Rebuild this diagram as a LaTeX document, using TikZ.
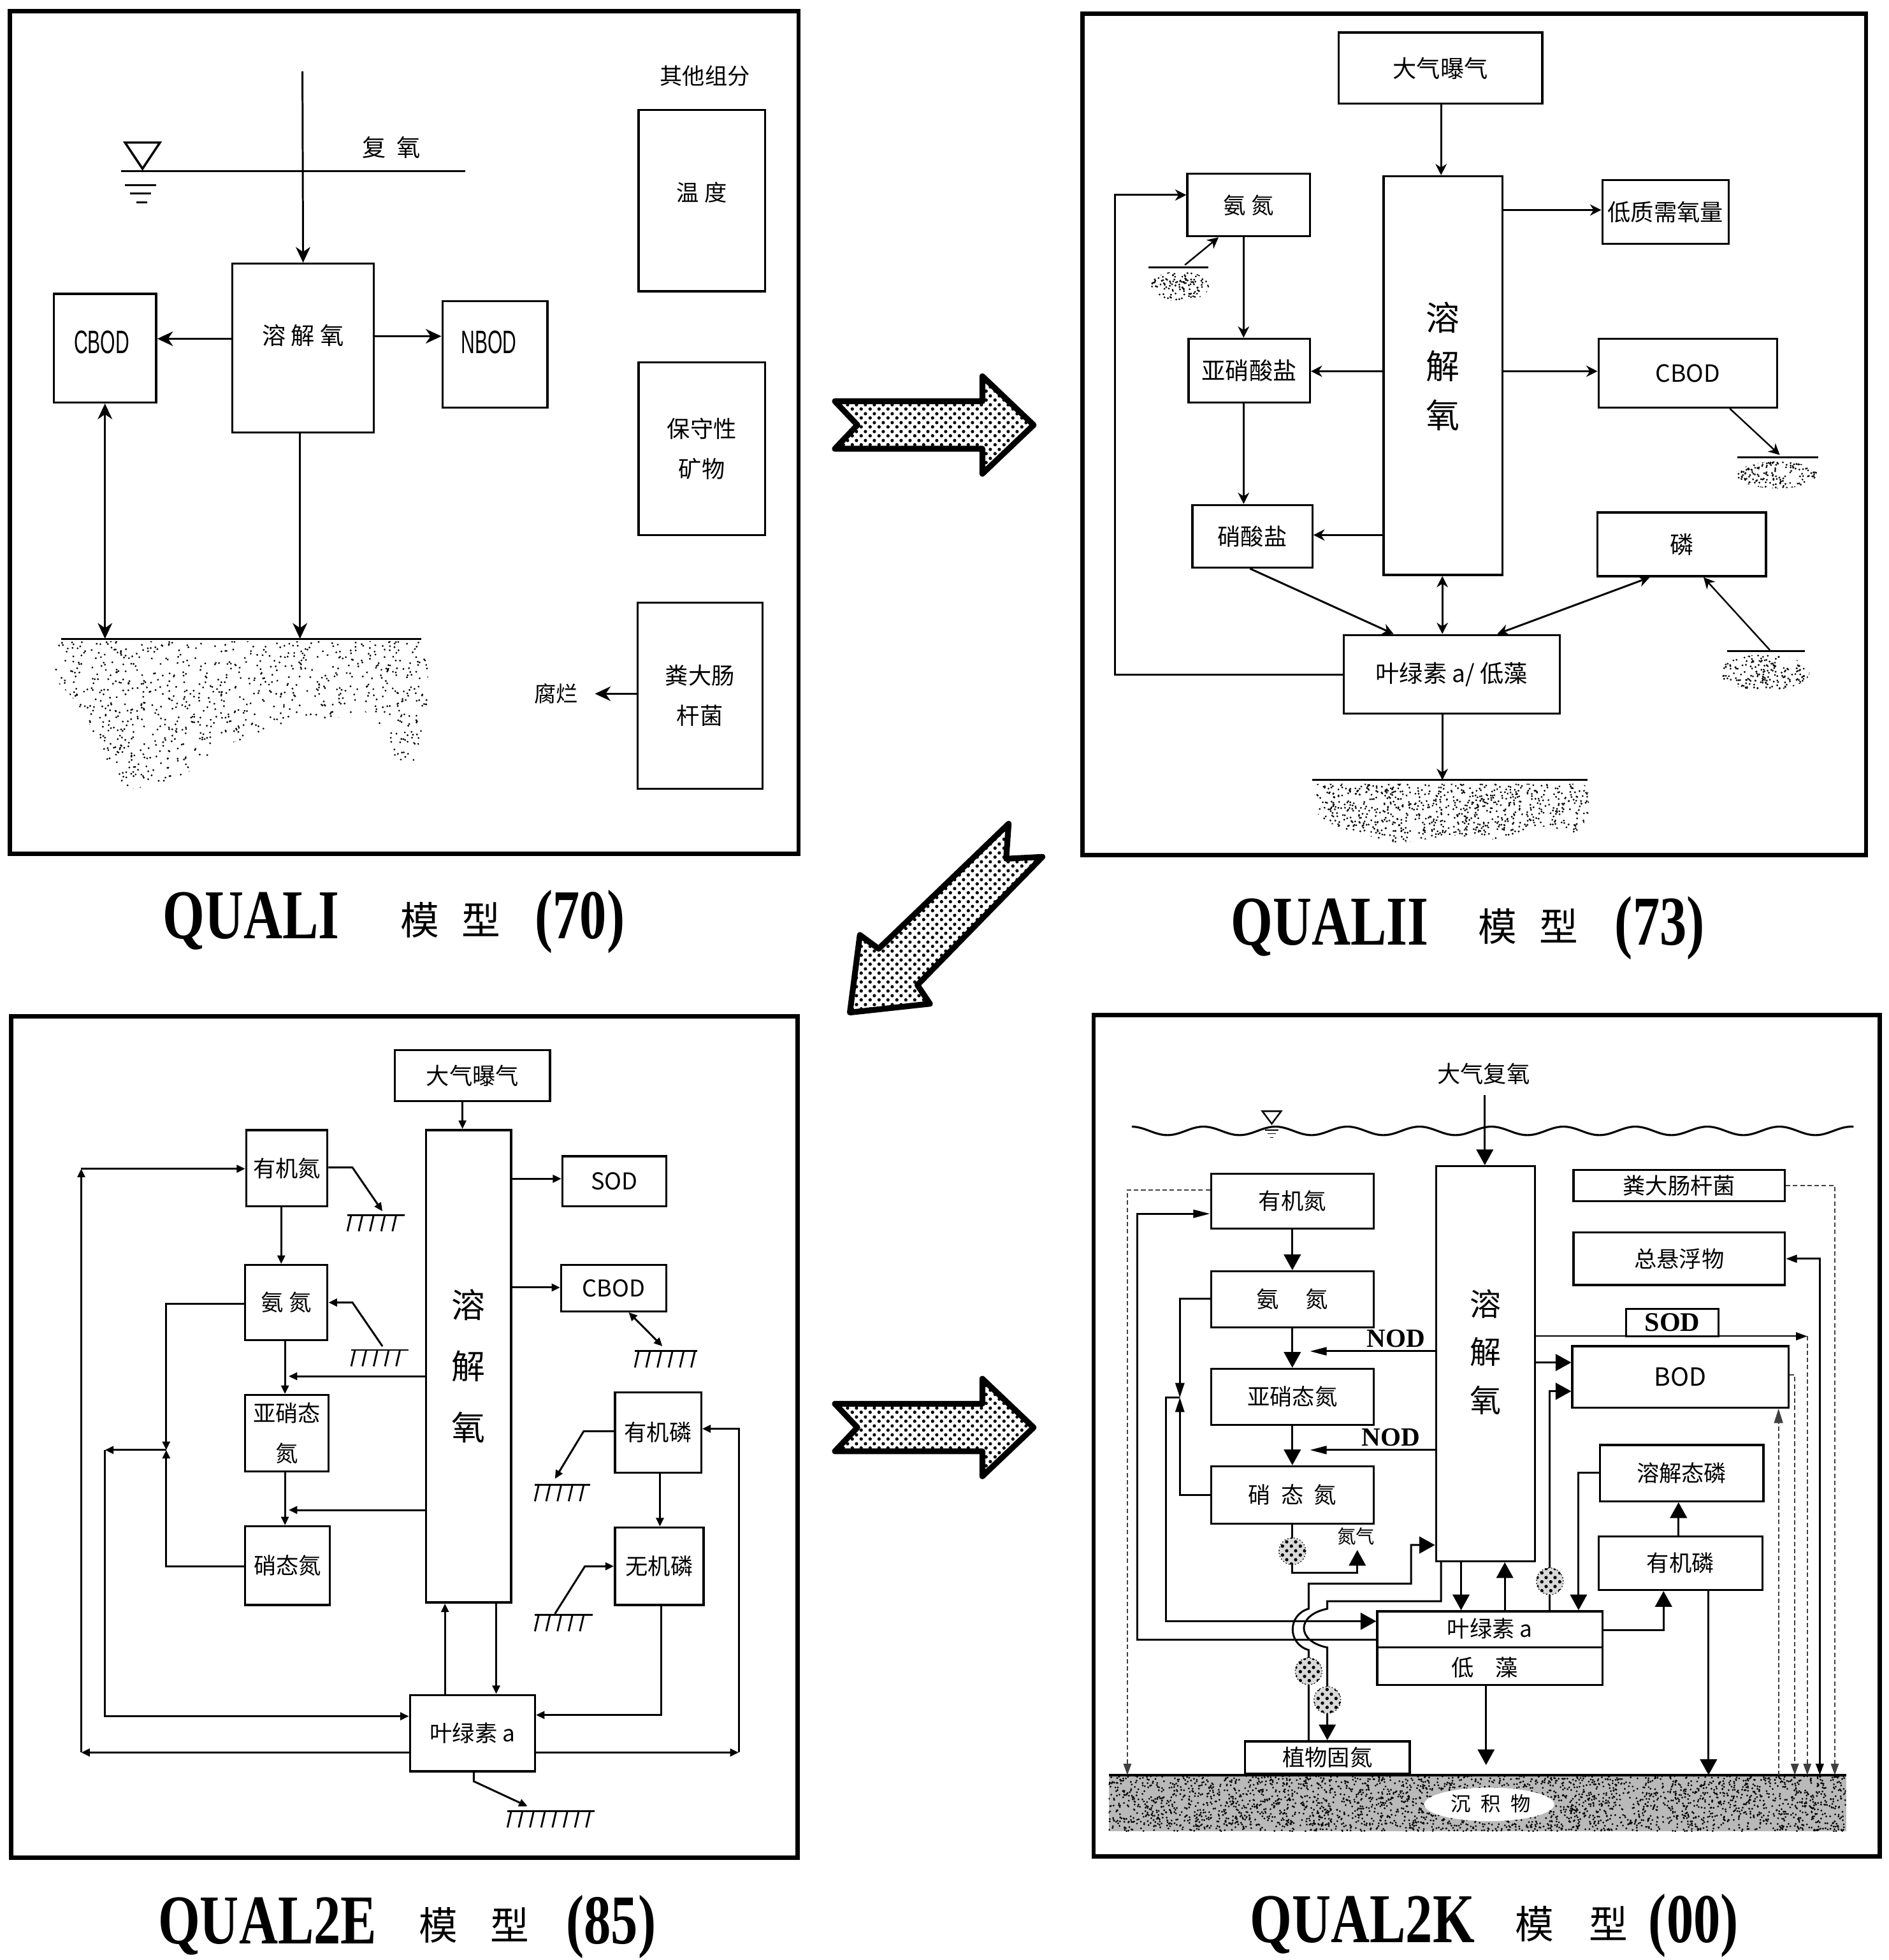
\documentclass[tikz,border=0pt]{standalone}
\usepackage{fontspec}
\setmainfont{Liberation Serif}
\newfontfamily\cjk{Noto Sans CJK SC}
\newfontfamily\sansf{Liberation Sans}
\usetikzlibrary{arrows.meta,patterns,patterns.meta,fit,calc}
\newcommand\F[1]{\fontsize{\fpeval{#1*0.5582}pt}{\fpeval{#1*0.67}pt}\selectfont}
\newcommand\Fb[2]{\fontsize{\fpeval{#1*0.5582}pt}{\fpeval{#2*0.5582}pt}\selectfont}
\tikzdeclarepattern{
  name=mydots,
  type=uncolored,
  bounding box={(0pt,0pt) and (4pt,4pt)},
  tile size={(4pt,4pt)},
  code={
    \pgfpathcircle{\pgfqpoint{1pt}{1pt}}{0.8pt}
    \pgfpathcircle{\pgfqpoint{3pt}{3pt}}{0.8pt}
    \pgfusepath{fill}
  }
}
% box: [label options]{name}{x1}{y1}{x2}{y2}{text}
\newcommand\bx[7][]{\node[bx,fit={(#3,#4) (#5,#6)},label={[lab,#1]center:#7}] (#2) {};}
\newcommand\speck[5]{\foreach \k in {1,...,#5}{\pgfmathsetmacro\spx{#1+#3*rnd}\pgfmathsetmacro\spy{#2+#4*rnd}\fill (\spx,\spy) circle[radius=0.45pt];}}
\newcommand\grnd[4]{\draw[line width=0.85pt] (#1,#3) -- (#2,#3);
  \foreach \g in {0,...,#4}{\draw[line width=0.8pt] (#1+3+9*\g,#3) -- ++(-3,13);}}
\newcommand\bub[2]{\fill[gray!30] (#1,#2) circle[radius=6pt];\fill[pattern=mydots] (#1,#2) circle[radius=6pt];\draw[line width=0.4pt,densely dotted] (#1,#2) circle[radius=6pt];}

\begin{document}
\begin{tikzpicture}[x=0.01962cm,y=-0.01962cm,
  frame/.style={draw,line width=1.9pt},
  bx/.style={draw,line width=0.95pt,inner sep=0pt},
  lab/.style={font=\cjk\F{18},align=center,inner sep=0pt},
  ln/.style={line width=0.85pt},
  a1/.style={-{Stealth[length=7pt,width=6.5pt,inset=2.2pt]}},
  a1d/.style={{Stealth[length=7pt,width=6.5pt,inset=2.2pt]}-{Stealth[length=7pt,width=6.5pt,inset=2.2pt]}},
  a2/.style={-{Stealth[length=5pt,width=5pt,inset=1.6pt]}},
  a2d/.style={{Stealth[length=5pt,width=5pt,inset=1.6pt]}-{Stealth[length=5pt,width=5pt,inset=1.6pt]}},
  a3/.style={-{Triangle[length=3.8pt,width=3.4pt]}},
  a3d/.style={{Triangle[length=3.8pt,width=3.4pt]}-{Triangle[length=3.8pt,width=3.4pt]}},
  a4/.style={-{Triangle[length=7pt,width=7.5pt]}},
  a4n/.style={-{Triangle[length=7.5pt,width=3.6pt]}},
  a4m/.style={-{Triangle[length=6.5pt,width=4pt]}},
  a4s/.style={-{Triangle[length=5pt,width=3.5pt]}},
  a4sd/.style={{Triangle[length=5pt,width=3.5pt]}-{Triangle[length=5pt,width=3.5pt]}},
  dl/.style={line width=0.5pt,dash pattern=on 2pt off 1.2pt,black!75},
  ttl/.style={font=\bfseries\F{56},anchor=base,inner sep=0pt},
  ttc/.style={font=\cjk\F{31},anchor=base,inner sep=0pt},
  bigarr/.style={line width=2.6pt,line join=round,pattern=mydots}
]
\useasboundingbox (0,0) rectangle (1511,1568);
\pgfmathsetseed{4242}

%================ Panel 1 : QUALI =================
\draw[frame] (8,9) rectangle (639,683);
\coordinate (fy1) at (242,57);
\draw[ln] (97,137) -- (372,137);
\draw[line width=1pt] (100,114) -- (128,114) -- (114,135) -- cycle;
\draw[ln] (100,148)--(125,148) (104,155)--(121,155) (109,162)--(118,162);
\node[font=\cjk\F{19}] at (313,118) {复\hspace{0.45em}氧};
\bx[font=\cjk\F{19},yshift=5.6pt]{dox1}{186}{211}{299}{346}{溶 解 氧}
\bx[font=\sansf\F{26},xshift=-1.5pt,yshift=2.5pt]{cb1}{43}{235}{125}{322}{\scalebox{0.59}[1]{CBOD}}
\bx[font=\sansf\F{26},xshift=-2.8pt,yshift=5.3pt]{nb1}{354}{241}{438}{326}{\scalebox{0.59}[1]{NBOD}}
\draw[ln,a1] (fy1) -- (dox1.north);
\draw[ln,a1] (dox1.west |- 0,271) -- (cb1.east |- 0,271);
\draw[ln,a1] (dox1.east |- 0,269) -- (nb1.west |- 0,269);
\coordinate (sl1a) at (49,511);
\coordinate (sl1b) at (337,511);
\draw[ln] (sl1a) -- (sl1b);
\draw[ln,a1d] (cb1.south) -- (cb1.south |- sl1a);
\draw[ln,a1] (dox1.south -| 240,0) -- (sl1a -| 240,0);
\begin{scope}
\clip[rounded corners=4pt] (44,513) -- (341,513) -- (343,553) -- (339,584) -- (329,615) -- (316,606) -- (291,566) -- (270,575) -- (241,575) -- (208,588) -- (175,597) -- (150,619) -- (125,628) -- (100,632) -- (90,619) -- (67,570) -- (54,553) -- (44,545) -- cycle;
\speck{44}{513}{300}{120}{1300}
\end{scope}
\node[font=\cjk\F{18}] at (564,61) {其他组分};
\bx[font=\cjk\F{18},yshift=3.6pt]{tmp1}{511}{88}{612}{233}{温 度}
\bx[font=\cjk\Fb{18.5}{32}]{cons1}{511}{290}{612}{428}{保守性\\矿物}
\bx[font=\cjk\Fb{18.5}{32}]{fc1}{510}{482}{610}{631}{粪大肠\\杆菌}
\coordinate (rot1) at (476,555);
\draw[ln,a1] (fc1.west |- rot1) -- (rot1);
\node[font=\cjk\F{17.5}] at (445,555) {腐烂};
\node[ttl] at (201,751) {\scalebox{0.77}[1]{QUALI}};
\node[ttc] at (336,748) {模};
\node[ttc] at (385,748) {型};
\node[ttl] at (464,751) {\scalebox{0.77}[1]{(70)}};

%================ Panel 2 : QUALII =================
\draw[frame] (866,11) rectangle (1493,684);
\bx[font=\cjk\F{19}]{aer2}{1071}{26}{1234}{83}{大气曝气}
\bx[font=\cjk\Fb{27}{39},yshift=4.2pt]{dox2}{1107}{141}{1202}{460}{溶\\解\\氧}
\bx[font=\cjk\F{18}]{nh2}{950}{139}{1048}{189}{氨 氮}
\bx[font=\cjk\F{19}]{no2}{951}{271}{1048}{322}{亚硝酸盐}
\bx[font=\cjk\F{18.5}]{no3}{954}{404}{1050}{454}{硝酸盐}
\bx[font=\cjk\F{18.5}]{sd2}{1282}{144}{1383}{195}{低质需氧量}
\bx[font=\cjk\F{19}]{cb2}{1279}{271}{1422}{326}{CBOD}
\bx[font=\cjk\F{19}]{p2}{1278}{410}{1413}{461}{磷}
\bx[font=\cjk\F{19}]{chl2}{1075}{508}{1248}{571}{叶绿素 a/ 低藻}
\draw[ln,a2] (aer2.south -| 1153,0) -- (dox2.north -| 1153,0);
\draw[ln,a2] (nh2.south -| 995,0) -- (no2.north -| 995,0);
\draw[ln,a2] (no2.south -| 995,0) -- (no3.north -| 995,0);
\draw[ln,a2] (dox2.west |- 0,297) -- (no2.east |- 0,297);
\draw[ln,a2] (dox2.west |- 0,428) -- (no3.east |- 0,428);
\draw[ln,a2] (dox2.east |- 0,168) -- (sd2.west |- 0,168);
\draw[ln,a2] (dox2.east |- 0,297) -- (cb2.west |- 0,297);
\draw[ln,a2] (no3.south -| 1000,0) -- (chl2.north -| 1115,0);
\draw[ln,a2d] (dox2.south -| 1154,0) -- (chl2.north -| 1154,0);
\draw[ln,a2d] (p2.south -| 1320,0) -- (chl2.north -| 1198,0);
\draw[ln,a2] (chl2.west) -| (892,156) -- (nh2.west |- 0,156);
\coordinate (c2sa) at (1050,624);
\coordinate (c2sb) at (1270,624);
\draw[ln] (c2sa) -- (c2sb);
\draw[ln,a2] (chl2.south -| 1154,0) -- (c2sa -| 1154,0);
\draw[ln] (919,214) -- (967,214);
\coordinate (g2a) at (948,212);
\draw[line width=0.7pt,a2] (g2a) -- (nh2.south -| 975,0);
\draw[ln] (1390,366) -- (1455,366);
\coordinate (g2b) at (1424,364);
\draw[line width=0.7pt,a2] (cb2.south -| 1384,0) -- (g2b);
\draw[ln] (1382,521) -- (1444,521);
\coordinate (g2c) at (1416,520);
\draw[line width=0.7pt,a2] (g2c) -- (p2.south -| 1363,0);
\begin{scope}\clip (944,229) ellipse[x radius=13pt,y radius=6.7pt];\speck{921}{217}{46}{24}{140}\end{scope}
\begin{scope}\clip (1422,380) ellipse[x radius=18pt,y radius=6pt];\speck{1390}{369}{65}{22}{180}\end{scope}
\begin{scope}\clip (1412,538) ellipse[x radius=20pt,y radius=8pt];\speck{1376}{524}{73}{28}{220}\end{scope}
\begin{scope}
\clip[rounded corners=3pt] (1050,627) -- (1270,627) -- (1272,650) -- (1262,668) -- (1230,660) -- (1200,672) -- (1160,668) -- (1120,675) -- (1080,665) -- (1055,655) -- cycle;
\speck{1050}{627}{222}{48}{950}
\end{scope}
\node[ttl] at (1064,756) {\scalebox{0.77}[1]{QUALII}};
\node[ttc] at (1198,753) {模};
\node[ttc] at (1247,753) {型};
\node[ttl] at (1328,756) {\scalebox{0.77}[1]{(73)}};

%================ big arrows =================
\draw[bigarr] (668,321) -- (786,321) -- (786,301) -- (827,340) -- (786,379) -- (786,359) -- (668,359) -- (686,340) -- cycle;
\draw[bigarr] (680,810) -- (688,748) -- (703,759) -- (807,659) -- (805,687) -- (834,685.5) -- (734,788) -- (744,803) -- cycle;
\draw[bigarr] (668,1123) -- (786,1123) -- (786,1103) -- (827,1142) -- (786,1181) -- (786,1161) -- (668,1161) -- (686,1142) -- cycle;

%================ Panel 3 : QUAL2E =================
\draw[frame] (9,813) rectangle (638,1486);
\bx[font=\cjk\F{18.5}]{aer3}{316}{840}{440}{881}{大气曝气}
\bx[font=\cjk\Fb{27}{49}]{dox3}{341}{904}{409}{1282}{溶\\解\\氧}
\bx[font=\cjk\F{18}]{on3}{197}{904}{262}{965}{有机氮}
\bx[font=\cjk\F{18}]{nh3}{196}{1012}{262}{1072}{氨 氮}
\bx[font=\cjk\Fb{18}{32}]{nn3}{196}{1116}{263}{1177}{亚硝态\\氮}
\bx[font=\cjk\F{18}]{na3}{196}{1221}{264}{1284}{硝态氮}
\bx[font=\cjk\F{18.5}]{sod3}{450}{925}{533}{965}{SOD}
\bx[font=\cjk\F{18.5}]{cb3}{449}{1012}{533}{1049}{CBOD}
\bx[font=\cjk\F{18}]{op3}{492}{1114}{561}{1178}{有机磷}
\bx[font=\cjk\F{18}]{ip3}{492}{1222}{563}{1284}{无机磷}
\bx[font=\cjk\F{18}]{chl3}{328}{1356}{428}{1417}{叶绿素 a}
\draw[ln,a3] (aer3.south -| 370,0) -- (dox3.north -| 370,0);
\draw[ln,a3] (on3.south -| 225,0) -- (nh3.north -| 225,0);
\draw[ln,a3] (nh3.south -| 228,0) -- (nn3.north -| 228,0);
\draw[ln,a3] (nn3.south -| 228,0) -- (na3.north -| 228,0);
\coordinate (o3a) at (231,1101);
\coordinate (o3b) at (231,1208);
\draw[ln,a3] (dox3.west |- o3a) -- (o3a);
\draw[ln,a3] (dox3.west |- o3b) -- (o3b);
\draw[ln,a3] (dox3.east |- 0,943) -- (sod3.west |- 0,943);
\draw[ln,a3] (dox3.east |- 0,1030) -- (cb3.west |- 0,1030);
\coordinate (m3) at (133,1160);
\draw[ln,a3] (nh3.west |- 0,1043) -| (m3);
\draw[ln,a3] (na3.west |- 0,1253) -| (m3);
\coordinate (l3) at (84,1160);
\draw[ln,a3] (m3) -- (l3);
\draw[ln,a3] (l3) |- (chl3.west |- 0,1373);
\coordinate (b3) at (65,1402);
\coordinate (t3) at (65,935);
\draw[ln,a3] (chl3.west |- b3) -- (b3);
\draw[ln,a3] (b3) -- (t3);
\draw[ln,a3] (t3) -- (on3.west |- t3);
\coordinate (r3) at (591,1402);
\draw[ln,a3] (chl3.east |- r3) -- (r3);
\draw[ln,a3] (r3) |- (op3.east |- 0,1143);
\draw[ln,a3] (ip3.south -| 529,0) |- (chl3.east |- 0,1372);
\draw[ln,a3] (op3.south -| 528,0) -- (ip3.north -| 528,0);
\draw[ln,a3] (chl3.north -| 356,0) -- (dox3.south -| 356,0);
\draw[ln,a3] (dox3.south -| 397,0) -- (chl3.north -| 397,0);
% ground symbols
\grnd{278}{324}{972}{4}
\coordinate (g3a) at (306,969);
\draw[ln,a3] (on3.east |- 0,934) -- (282,934) -- (g3a);
\grnd{281}{327}{1080}{4}
\coordinate (g3b) at (306,1077);
\draw[ln,a3] (g3b) -- (282,1042) -- (nh3.east |- 0,1042);
\grnd{508}{558}{1081}{5}
\coordinate (g3c) at (530,1077);
\draw[ln,a3d] (cb3.south -| 503,0) -- (g3c);
\grnd{428}{472}{1188}{4}
\coordinate (g3d) at (444,1183);
\draw[ln,a3] (op3.west |- 0,1145) -- (467,1145) -- (g3d);
\grnd{428}{474}{1292}{4}
\coordinate (g3e) at (444,1291);
\draw[ln,a3] (g3e) -- (468,1253) -- (ip3.west |- 0,1253);
\grnd{406}{476}{1449}{7}
\coordinate (g3f) at (422,1445);
\draw[ln,a3] (chl3.south -| 379,0) -- (379,1425) -- (g3f);
\node[ttl] at (214,1555) {\scalebox{0.77}[1]{QUAL2E}};
\node[ttc] at (351,1552) {模};
\node[ttc] at (408,1552) {型};
\node[ttl] at (489,1555) {\scalebox{0.77}[1]{(85)}};

%================ Panel 4 : QUAL2K =================
\draw[frame] (875,812) rectangle (1504,1485);
\node[font=\cjk\F{18.5}] at (1187,859) {大气复氧};
\draw[line width=0.9pt] plot[domain=905.5:1483,samples=260,smooth] (\x,{904.7-3.4*cos((\x-1020.5)*6.25)});
\draw[line width=0.7pt] (1010,889) -- (1025,889) -- (1017.5,899) -- cycle;
\draw[line width=0.4pt] (1012,904)--(1023,904) (1014,907)--(1021,907) (1016,910)--(1019,910);
% sediment
\coordinate (sd4) at (887,1420);
\fill[gray!55] (887,1420) rectangle (1477,1465);
\begin{scope}\clip (887,1420) rectangle (1477,1465);\speck{887}{1420}{590}{45}{3200}\end{scope}
\draw[line width=1.3pt] (sd4) -- (1477,1420);
\fill[white] (1191.5,1443.5) ellipse[x radius=29pt,y radius=7.5pt];
\node[font=\cjk\F{16}] at (1193,1443) {沉\hspace{0.5em}积\hspace{0.5em}物};
% boxes
\bx[font=\cjk\Fb{25}{38.5},yshift=5.3pt]{dox4}{1149}{933}{1228}{1249}{溶\\解\\氧}
\bx[font=\cjk\F{18}]{on4}{969}{939}{1099}{983}{有机氮}
\bx[font=\cjk\F{18}]{nh4}{969}{1017}{1099}{1062}{氨\hspace{1.2em}氮}
\bx[font=\cjk\F{18}]{nn4}{969}{1095}{1099}{1140}{亚硝态氮}
\bx[font=\cjk\F{18}]{na4}{969}{1173}{1099}{1219}{硝\hspace{0.45em}态\hspace{0.45em}氮}
\bx[font=\cjk\F{18}]{fc4}{1259}{936}{1428}{961}{粪大肠杆菌}
\bx[font=\cjk\F{18}]{tss4}{1259}{986}{1428}{1028}{总悬浮物}
\bx[font=\bfseries\F{21.5}]{sod4}{1301}{1047}{1375}{1069}{SOD}
\bx[font=\cjk\F{20}]{bod4}{1258}{1077}{1431}{1126}{BOD}
\bx[font=\cjk\F{18}]{dp4}{1280}{1156}{1411}{1201}{溶解态磷}
\bx[font=\cjk\F{18}]{op4}{1279}{1229}{1410}{1272}{有机磷}
\bx[font=\cjk\F{18}]{pf4}{996}{1393}{1128}{1419}{植物固氮}
\node[bx,fit={(1102,1289) (1282,1348)}] (chl4) {};
\draw[line width=0.95pt] (chl4.west |- 0,1318) -- (chl4.east |- 0,1318);
\node[font=\cjk\F{18}] at (1192,1303) {叶绿素 a};
\node[font=\cjk\F{18}] at (1188,1334) {低\hspace{0.95em}藻};
% connectors
\coordinate (air4) at (1188,876);
\draw[ln,a4] (air4) -- (dox4.north -| air4);
\draw[ln,a4] (on4.south -| 1034,0) -- (nh4.north -| 1034,0);
\draw[ln,a4] (nh4.south -| 1034,0) -- (nn4.north -| 1034,0);
\draw[ln,a4] (nn4.south -| 1034,0) -- (na4.north -| 1034,0);
\coordinate (nod1) at (1048,1081);
\coordinate (nod2) at (1048,1160);
\draw[ln,a4n] (dox4.west |- nod1) -- (nod1);
\draw[ln,a4n] (dox4.west |- nod2) -- (nod2);
\node[font=\bfseries\F{21}] at (1117,1071) {NOD};
\node[font=\bfseries\F{21}] at (1113,1150) {NOD};
\coordinate (n2) at (1086,1240);
\draw[ln,a4] (na4.south -| 1034,0) |- (1086,1258) -- (n2);
\node[font=\cjk\F{15}] at (1085,1229) {氮气};
\bub{1034}{1241}
\draw[ln,a4] (pf4.north -| 1047,0) -- (1047,1320) .. controls (1030,1315) and (1030,1292) .. (1047,1287) -- (1047,1267) -- (1129,1267) -- (1129,1236) -- (dox4.west |- 0,1236);
\draw[ln,a4] (dox4.south -| 1153,0) -- (1153,1281) -- (1062,1281) -- (1062,1287) .. controls (1037,1292) and (1037,1313) .. (1062,1318) -- (pf4.north -| 1062,0);
\bub{1047}{1337}
\bub{1062}{1360}
\coordinate (m4) at (944,1118);
\draw[ln,a4m] (nh4.west |- 0,1039) -| (m4);
\draw[ln,a4m] (na4.west |- 0,1196) -| (m4);
\draw[ln,a4] (m4) -| (933,1297) -- (chl4.west |- 0,1297);
\draw[ln,a4n] (chl4.west |- 0,1312) -| (910,971) -- (on4.west |- 0,971);
\draw[dl,a4s] (on4.west |- 0,952) -| (sd4 -| 902,0);
\draw[ln,a4] (dox4.east |- 0,1090) -- (bod4.west |- 0,1090);
\draw[ln,a4] (chl4.north -| 1240,0) |- (bod4.west |- 0,1113);
\bub{1240}{1265}
\coordinate (sodr) at (1446,1069);
\draw[line width=0.6pt,a4s] (dox4.east |- sodr) -- (sodr);
\draw[dl,a4s] (sodr) -- (sd4 -| sodr);
\draw[dl,a4s] (bod4.east |- 0,1100) -| (sd4 -| 1436,0);
\draw[line width=0.8pt,a4sd] (tss4.east) -| (sd4 -| 1456,0);
\draw[dl,a4s] (fc4.east) -| (sd4 -| 1468,0);
\draw[dl,a4m] (sd4 -| 1423,0) -- (bod4.south -| 1423,0);
\draw[ln,a4] (dp4.west |- 0,1178) -| (chl4.north -| 1263,0);
\draw[ln,a4] (op4.north -| 1343,0) -- (dp4.south -| 1343,0);
\draw[ln,a4] (chl4.east |- 0,1304) -| (op4.south -| 1331,0);
\draw[ln,a4] (op4.south -| 1367,0) -- (sd4 -| 1367,0);
\draw[ln,a4] (chl4.south -| 1189,0) -- (1189,1412);
\draw[ln,a4] (dox4.south -| 1169,0) -- (chl4.north -| 1169,0);
\draw[ln,a4] (chl4.north -| 1204,0) -- (dox4.south -| 1204,0);
\node[ttl] at (1090,1554) {\scalebox{0.77}[1]{QUAL2K}};
\node[ttc] at (1228,1551) {模};
\node[ttc] at (1287,1551) {型};
\node[ttl] at (1355,1554) {\scalebox{0.77}[1]{(00)}};
\end{tikzpicture}
\end{document}
